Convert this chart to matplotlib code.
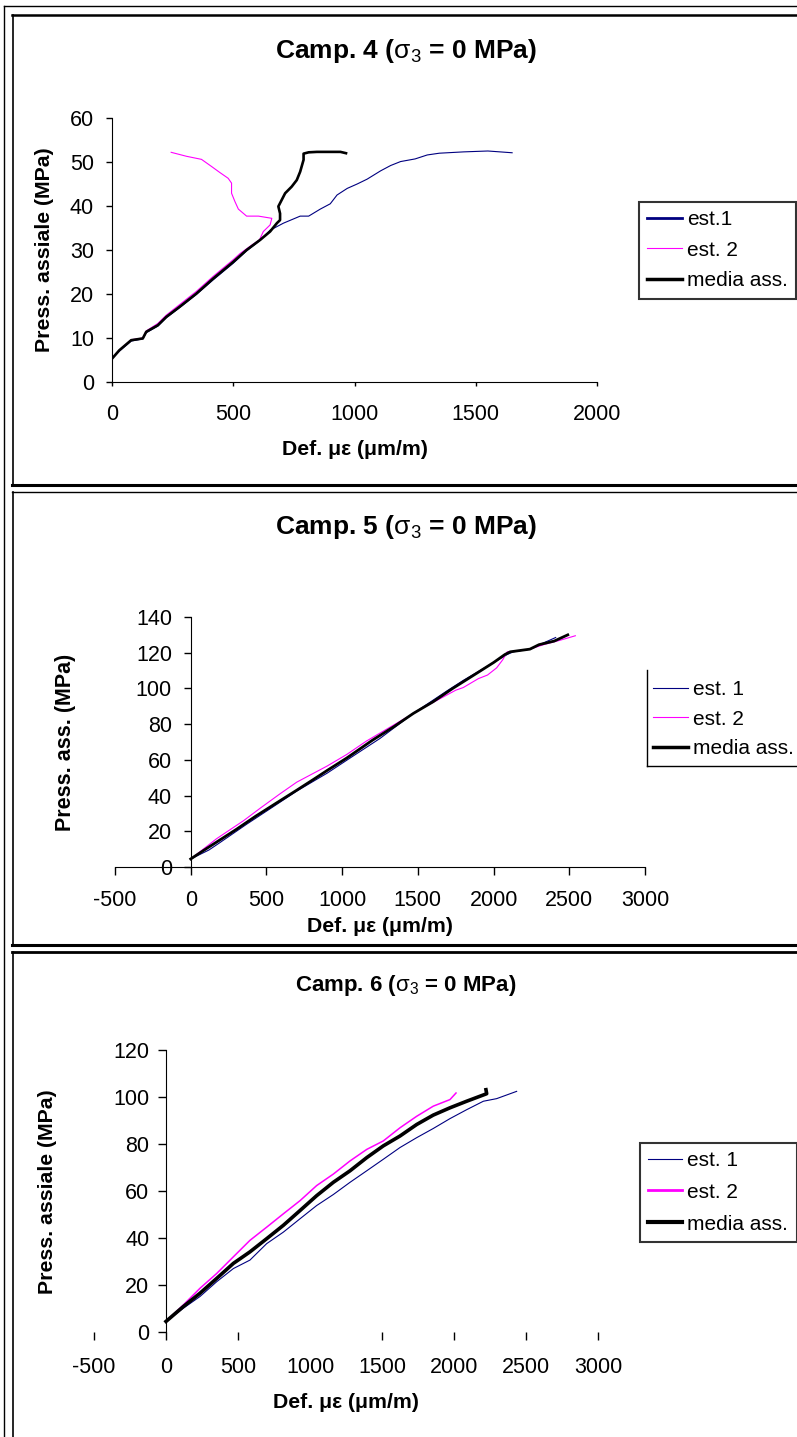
import matplotlib
matplotlib.use("Agg")
import matplotlib.pyplot as plt
from matplotlib.lines import Line2D

plt.rcParams["font.family"] = ["Liberation Sans", "DejaVu Sans"]
plt.rcParams["mathtext.fontset"] = "custom"
plt.rcParams["mathtext.rm"] = "Liberation Sans"
plt.rcParams["mathtext.it"] = "Liberation Sans:italic"
plt.rcParams["mathtext.bf"] = "Liberation Sans:bold"
plt.rcParams["axes.unicode_minus"] = False

W, H = 797, 1437
NAVY, MAGENTA, BLACK = "#000080", "#FF00FF", "#000000"
TICK_FS, LABEL_FS, LEG_FS = 15.5, 15.3, 15

# --- Camp. 4 ---
c4_est1_x = [0, 30, 79, 127, 141, 189, 224, 279, 348, 417, 500, 555, 611, 652, 707, 776,
             811, 859, 900, 928, 970, 1011, 1052, 1108, 1149, 1190, 1250, 1300, 1350, 1450,
             1550, 1600, 1650]
c4_est1_y = [5.3, 7.0, 9.3, 9.8, 11.2, 12.7, 14.6, 16.9, 19.9, 23.2, 27.0, 29.8, 32.2, 34.5,
             36.1, 37.7, 37.7, 39.3, 40.5, 42.5, 44.0, 45.0, 46.1, 48.0, 49.2, 50.1, 50.7,
             51.6, 52.0, 52.3, 52.5, 52.3, 52.1]
c4_est2_x = [0, 30, 79, 127, 141, 189, 224, 279, 348, 417, 500, 528, 576, 608, 624, 652, 659,
             604, 555, 521, 507, 493, 493, 479, 445, 410, 369, 307, 244]
c4_est2_y = [5.3, 7.2, 9.6, 10.0, 11.6, 13.3, 15.2, 17.6, 20.6, 24.0, 27.8, 29.2, 31.1, 32.3,
             34.2, 35.7, 37.2, 37.7, 37.7, 39.3, 41.0, 42.9, 45.2, 46.3, 47.6, 49.0, 50.6,
             51.3, 52.2]
c4_media_x = [0, 30, 79, 127, 141, 189, 224, 279, 348, 417, 500, 555, 611, 652, 680, 693, 693,
              686, 700, 714, 741, 762, 776, 790, 790, 811, 845, 942, 965]
c4_media_y = [5.3, 7.2, 9.5, 9.9, 11.4, 12.9, 14.8, 17.1, 20.1, 23.5, 27.3, 30.0, 32.3, 34.2,
              36.1, 36.8, 38.3, 39.9, 41.4, 42.9, 44.4, 45.9, 47.8, 50.5, 51.9, 52.2, 52.3,
              52.3, 52.0]

# --- Camp. 5 ---
c5_est1_x = [0, 120, 190, 370, 540, 700, 900, 1070, 1250, 1470, 1690, 1800, 1910, 2000, 2090,
             2130, 2240, 2330, 2410]
c5_est1_y = [4.5, 9.5, 13.5, 24.0, 33.5, 42.5, 52.5, 62.0, 72.0, 86.0, 98.5, 104.5, 110.0,
             114.5, 119.0, 120.5, 122.0, 125.5, 128.5]
c5_est2_x = [0, 80, 170, 350, 460, 590, 700, 900, 1030, 1160, 1340, 1510, 1750, 1800, 1900,
             1960, 2020, 2060, 2090, 2110, 2240, 2330, 2440, 2540]
c5_est2_y = [4.5, 9.8, 15.8, 26.0, 33.0, 41.0, 47.5, 56.5, 63.0, 70.5, 79.5, 88.0, 99.0,
             100.5, 105.5, 107.5, 111.5, 116.0, 120.5, 120.5, 122.0, 124.5, 127.0, 129.5]
c5_media_x = [0, 80, 190, 300, 430, 560, 700, 810, 900, 1030, 1200, 1340, 1470, 1600, 1730,
              1870, 2000, 2075, 2110, 2240, 2300, 2400, 2490]
c5_media_y = [4.5, 9.0, 15.0, 21.0, 28.5, 35.5, 43.0, 49.0, 54.0, 61.0, 71.0, 78.5, 86.0,
              92.5, 100.0, 107.5, 114.5, 119.0, 120.5, 122.0, 124.5, 126.5, 130.0]

# --- Camp. 6 ---
c6_est1_x = [0, 120, 236, 352, 468, 583, 699, 815, 931, 1046, 1162, 1278, 1394, 1509, 1625,
             1741, 1856, 1972, 2088, 2204, 2296, 2435]
c6_est1_y = [4.5, 10.1, 15.1, 21.4, 27.0, 30.6, 37.6, 42.5, 48.2, 53.8, 58.5, 63.7, 68.6,
             73.5, 78.5, 82.7, 86.6, 90.8, 94.6, 98.2, 99.3, 102.4]
c6_est2_x = [0, 120, 236, 352, 468, 583, 699, 815, 931, 1046, 1162, 1278, 1394, 1509, 1625,
             1741, 1856, 1972, 2014]
c6_est2_y = [4.5, 11.5, 18.6, 24.9, 32.0, 39.0, 44.6, 50.3, 55.9, 62.3, 67.2, 72.8, 77.7,
             81.3, 86.9, 91.8, 96.1, 98.9, 101.7]
c6_media_x = [0, 120, 236, 352, 468, 583, 699, 815, 931, 1046, 1162, 1278, 1394, 1509, 1625,
              1741, 1856, 1972, 2088, 2227, 2222]
c6_media_y = [4.5, 10.8, 16.5, 22.8, 29.2, 34.1, 39.7, 45.4, 51.7, 58.0, 63.7, 68.6, 74.2,
              79.2, 83.4, 88.3, 92.3, 95.4, 98.2, 101.4, 103.1]

XTICKS_4 = [0, 500, 1000, 1500, 2000]
XTICKS_56 = [-500, 0, 500, 1000, 1500, 2000, 2500, 3000]


def fx(x):
    return x / W


def fy(y):
    return 1 - y / H


def place(fig, left, top, right, bottom):
    return fig.add_axes([fx(left), fy(bottom), (right - left) / W, (bottom - top) / H])


def hline(fig, x0, x1, y, lw):
    fig.add_artist(Line2D([fx(x0), fx(x1)], [fy(y), fy(y)], color="black", lw=lw,
                          transform=fig.transFigure))


def vline(fig, x, y0, y1, lw):
    fig.add_artist(Line2D([fx(x), fx(x)], [fy(y0), fy(y1)], color="black", lw=lw,
                          transform=fig.transFigure))


def style_axes(ax, xticks, yticks, xpad, ypad, xlen, ylen):
    ax.spines["top"].set_visible(False)
    ax.spines["right"].set_visible(False)
    ax.set_xticks(xticks)
    ax.set_yticks(yticks)
    ax.tick_params(axis="x", direction="out", length=xlen, width=1, labelsize=TICK_FS, pad=xpad)
    ax.tick_params(axis="y", direction="out", length=ylen, width=1, labelsize=TICK_FS, pad=ypad)
    ax.patch.set_alpha(0)


def legend(ax, labels, widths, anchor, frame, spacing):
    handles = [Line2D([], [], color=c, lw=w) for c, w in zip([NAVY, MAGENTA, BLACK], widths)]
    leg = ax.legend(handles, labels, loc="upper left", bbox_to_anchor=(fx(anchor[0]), fy(anchor[1])),
                    bbox_transform=ax.figure.transFigure, fontsize=LEG_FS, frameon=frame,
                    fancybox=False, borderaxespad=0, borderpad=0.4, handlelength=1.65,
                    handletextpad=0.25, labelspacing=spacing)
    if frame:
        leg.get_frame().set_edgecolor("black")
        leg.get_frame().set_linewidth(1.5)
    return leg


fig = plt.figure(figsize=(W / 100, H / 100), dpi=100)

# outer frames
vline(fig, 4, 6, H, 1.0)
hline(fig, 4, W, 6, 1.0)
vline(fig, 12.5, 15, 484.5, 1.2)
hline(fig, 12, W, 15, 1.8)
hline(fig, 12, W, 484.5, 2.2)
vline(fig, 12.5, 491.5, 944.5, 1.2)
hline(fig, 12, W, 491.5, 1.0)
hline(fig, 12, W, 944.5, 2.2)
vline(fig, 12.5, 952, H, 1.2)
hline(fig, 12, W, 952, 2.0)

# ---- panel 1 ----
ax1 = place(fig, 112, 118, 597, 382)
ax1.plot(c4_est1_x, c4_est1_y, color=NAVY, lw=0.8)
ax1.plot(c4_est2_x, c4_est2_y, color=MAGENTA, lw=0.8)
ax1.plot(c4_media_x, c4_media_y, color=BLACK, lw=1.9)
ax1.set_xlim(0, 2000)
ax1.set_ylim(0, 60)
style_axes(ax1, XTICKS_4, range(0, 61, 10), 12.5, 8.5, 3, 4.5)
fig.text(fx(406), fy(51), r"Camp. 4 ($\mathrm{\sigma_3}$ = 0 MPa)", ha="center", va="center",
         fontsize=19, fontweight="bold")
fig.text(fx(355), fy(450), "Def. με (μm/m)", ha="center", va="center", fontsize=LABEL_FS,
         fontweight="bold")
fig.text(fx(45), fy(250), "Press. assiale (MPa)", ha="center", va="center", rotation=90,
         fontsize=LABEL_FS, fontweight="bold")
legend(ax1, ["est.1", "est. 2", "media ass."], [2.0, 0.8, 2.5], (639, 201.5), True, 0.56)

# ---- panel 2 ----
ax2 = place(fig, 115, 617, 645, 867)
ax2.plot(c5_est1_x, c5_est1_y, color=NAVY, lw=0.8)
ax2.plot(c5_est2_x, c5_est2_y, color=MAGENTA, lw=0.8)
ax2.plot(c5_media_x, c5_media_y, color=BLACK, lw=2.0)
ax2.set_xlim(-500, 3000)
ax2.set_ylim(0, 140)
ax2.spines["left"].set_position(("data", 0))
style_axes(ax2, XTICKS_56, range(0, 141, 20), 11, 8.5, 5.5, 5)
fig.text(fx(406), fy(527), r"Camp. 5 ($\mathrm{\sigma_3}$ = 0 MPa)", ha="center", va="center",
         fontsize=19, fontweight="bold")
fig.text(fx(380), fy(926), "Def. με (μm/m)", ha="center", va="center", fontsize=LABEL_FS,
         fontweight="bold")
fig.text(fx(66), fy(742), "Press. ass. (MPa)", ha="center", va="center", rotation=90,
         fontsize=15.5, fontweight="bold")
legend(ax2, ["est. 1", "est. 2", "media ass."], [0.8, 0.8, 2.5], (645, 672), False, 0.5)
vline(fig, 646.7, 670, 766, 1.0)
hline(fig, 646.7, W, 766, 1.0)

# ---- panel 3 ----
ax3 = place(fig, 94, 1050, 598, 1332)
ax3.plot(c6_est1_x, c6_est1_y, color=NAVY, lw=0.8)
ax3.plot(c6_est2_x, c6_est2_y, color=MAGENTA, lw=1.1)
ax3.plot(c6_media_x, c6_media_y, color=BLACK, lw=2.6)
ax3.set_xlim(-500, 3000)
ax3.set_ylim(0, 120)
ax3.spines["left"].set_position(("data", 0))
ax3.spines["bottom"].set_visible(False)
style_axes(ax3, XTICKS_56, range(0, 121, 20), 12, 6, 5.8, 6)
ax3.xaxis.get_major_ticks()[3].tick1line.set_visible(False)
fig.text(fx(406), fy(986), r"Camp. 6 ($\mathrm{\sigma_3}$ = 0 MPa)", ha="center", va="center",
         fontsize=16, fontweight="bold")
fig.text(fx(346), fy(1402), "Def. με (μm/m)", ha="center", va="center", fontsize=LABEL_FS,
         fontweight="bold")
fig.text(fx(48), fy(1192), "Press. assiale (MPa)", ha="center", va="center", rotation=90,
         fontsize=LABEL_FS, fontweight="bold")
legend(ax3, ["est. 1", "est. 2", "media ass."], [0.8, 2.0, 3.0], (639.5, 1142.5), True, 0.62)

fig.savefig("out.png", dpi=100)
